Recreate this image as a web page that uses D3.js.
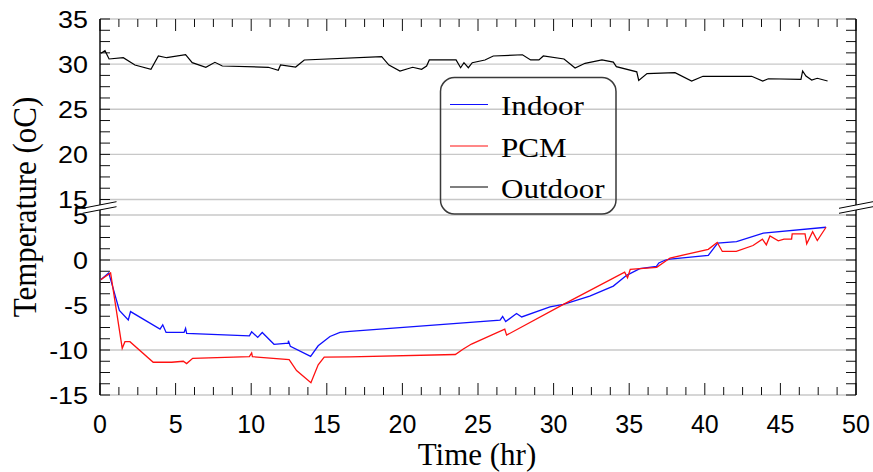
<!DOCTYPE html>
<html>
<head>
<meta charset="utf-8">
<script src="https://cdn.jsdelivr.net/npm/d3@7"></script>
<style>
  html, body { margin: 0; padding: 0; background: #fff; }
  svg { display: block; }
</style>
</head>
<body>
<svg id="chart" width="873" height="472"></svg>
<script>
// ---------- DATA ----------
const timeIndoor = [0.05, 0.58, 1.28, 1.87, 2.02, 3.97, 4.15, 4.37, 5.56, 5.66, 5.73, 9.88, 10.03, 10.43, 10.73, 11.51, 12.45, 12.46, 12.59, 13.93, 14.43, 15.21, 15.87, 16.53, 26.46, 26.63, 26.83, 27.55, 27.89, 29.76, 30.65, 32.39, 33.95, 34.83, 35.7, 36.8, 36.96, 37.4, 37.7, 40.23, 40.85, 42.1, 43.87, 48.02];
const indoor = [-2.2, -1.43, -5.6, -6.65, -5.73, -7.68, -7.2, -8.05, -8.05, -7.6, -8.16, -8.42, -7.98, -8.6, -8.05, -9.37, -9.23, -8.97, -9.6, -10.7, -9.53, -8.5, -8.05, -7.94, -6.68, -6.28, -6.84, -5.95, -6.33, -5.22, -4.93, -4.01, -2.9, -1.7, -0.95, -0.7, -0.33, 0.0, 0.1, 0.51, 1.87, 2.05, 2.98, 3.64];

const timePCM = [0.05, 0.7, 1.47, 1.65, 1.98, 3.52, 4.74, 5.51, 5.73, 6.13, 9.88, 10.03, 10.08, 12.51, 13.0, 13.95, 14.43, 14.83, 16.53, 23.5, 24.03, 24.57, 26.77, 26.89, 30.65, 34.7, 34.89, 35.07, 36.82, 37.7, 40.23, 40.82, 41.16, 42.08, 43.19, 43.81, 44.07, 44.31, 44.86, 45.24, 45.74, 45.78, 46.63, 46.74, 47.13, 47.44, 48.02];
const pcm = [-2.2, -1.43, -9.81, -9.08, -9.08, -11.36, -11.36, -11.25, -11.51, -10.92, -10.74, -10.33, -10.74, -11.07, -12.28, -13.64, -11.65, -10.8, -10.77, -10.5, -9.89, -9.34, -7.68, -8.35, -4.93, -1.36, -1.98, -1.03, -0.81, 0.22, 1.18, 1.95, 0.95, 0.95, 1.61, 2.32, 1.69, 2.68, 2.13, 2.32, 2.32, 2.9, 2.9, 1.8, 3.15, 2.16, 3.64];

const timeOutdoor = [0.07, 0.33, 0.6, 1.54, 2.31, 3.37, 3.86, 4.41, 5.66, 6.1, 7.0, 7.6, 8.09, 11.13, 11.79, 11.94, 12.94, 13.51, 18.63, 19.11, 19.84, 20.68, 21.27, 21.6, 21.78, 23.55, 23.85, 24.07, 24.36, 24.62, 25.46, 26.01, 27.94, 28.48, 29.03, 29.32, 30.69, 31.42, 32.08, 33.2, 33.95, 34.15, 35.5, 35.63, 36.18, 38.03, 39.13, 39.88, 43.1, 43.83, 44.2, 46.36, 46.47, 46.69, 47.07, 47.44, 48.12];
const outdoor = [31.2, 31.49, 30.57, 30.71, 29.9, 29.42, 30.9, 30.71, 31.04, 30.16, 29.65, 30.2, 29.79, 29.65, 29.31, 29.9, 29.68, 30.46, 30.82, 29.9, 29.24, 29.65, 29.42, 29.79, 30.46, 30.46, 29.6, 30.16, 29.6, 30.16, 30.46, 30.9, 31.04, 30.46, 30.46, 30.9, 30.57, 29.57, 30.09, 30.46, 30.22, 29.72, 29.15, 28.2, 28.95, 29.05, 28.13, 28.65, 28.65, 28.13, 28.38, 28.32, 29.24, 28.68, 28.24, 28.43, 28.13];

const xTickValues = [0, 5, 10, 15, 20, 25, 30, 35, 40, 45, 50];
const xTickLabels = ["0", "5", "10", "15", "20", "25", "30", "35", "40", "45", "50"];
const yUpperTicks = [35, 30, 25, 20, 15];
const yUpperLabels = ["35", "30", "25", "20", "15"];
const yLowerTicks = [5, 0, -5, -10, -15];
const yLowerLabels = ["5", "0", "-5", "-10", "-15"];
const seriesNames = ["Indoor", "PCM", "Outdoor"];
const seriesColors = ["#1010ff", "#ff1010", "#000000"];

// ---------- LAYOUT ----------
const L = 100, R = 856, T = 19, B = 395;
const svg = d3.select("#chart");
const x = d3.scaleLinear().domain([0, 50]).range([L, R]);
const yUp = d3.scaleLinear().domain([15, 35]).range([199.5, T]);
const yLo = d3.scaleLinear().domain([-15, 5]).range([B, 215]);

const sans = "'Liberation Sans', Arial, sans-serif";
const serif = "'Liberation Serif', 'Times New Roman', serif";
const gridColor = "#c8c8c8";

// gridlines
const gridUp = [30, 25, 20, 15], gridLo = [5, 0, -5, -10];
svg.append("g").selectAll("line").data(gridUp).join("line")
  .attr("x1", L).attr("x2", R).attr("y1", d => yUp(d)).attr("y2", d => yUp(d))
  .attr("stroke", gridColor).attr("stroke-width", 1.3);
svg.append("g").selectAll("line").data(gridLo).join("line")
  .attr("x1", L).attr("x2", R).attr("y1", d => yLo(d)).attr("y2", d => yLo(d))
  .attr("stroke", gridColor).attr("stroke-width", 1.3);
// top & bottom borders (gray)
svg.append("line").attr("x1", L).attr("x2", R).attr("y1", yUp(35)).attr("y2", yUp(35))
  .attr("stroke", gridColor).attr("stroke-width", 1.5);
svg.append("line").attr("x1", L).attr("x2", R).attr("y1", yLo(-15)).attr("y2", yLo(-15))
  .attr("stroke", gridColor).attr("stroke-width", 1.5);

// minor/major x ticks (top and bottom, inward)
const xMinor = d3.range(0, 50.001, 1.25);
svg.append("g").selectAll("line").data(xMinor).join("line")
  .attr("x1", d => x(d)).attr("x2", d => x(d))
  .attr("y1", B).attr("y2", d => B - (d % 5 === 0 ? 12 : 8))
  .attr("stroke", "#111").attr("stroke-width", 1);
svg.append("g").selectAll("line").data(xMinor).join("line")
  .attr("x1", d => x(d)).attr("x2", d => x(d))
  .attr("y1", T).attr("y2", d => T + (d % 5 === 0 ? 12 : 8))
  .attr("stroke", "#111").attr("stroke-width", 1);

// y ticks (left and right, inward) every 1.25
const yUpMinor = d3.range(15, 35.001, 1.25);
const yLoMinor = d3.range(-15, 5.001, 1.25);
[[L, 1], [R, -1]].forEach(([ax, dir]) => {
  svg.append("g").selectAll("line").data(yUpMinor).join("line")
    .attr("x1", ax).attr("x2", ax + dir * 10).attr("y1", d => yUp(d)).attr("y2", d => yUp(d))
    .attr("stroke", "#111").attr("stroke-width", 1);
  svg.append("g").selectAll("line").data(yLoMinor).join("line")
    .attr("x1", ax).attr("x2", ax + dir * 10).attr("y1", d => yLo(d)).attr("y2", d => yLo(d))
    .attr("stroke", "#111").attr("stroke-width", 1);
  // axis line
  svg.append("line").attr("x1", ax).attr("x2", ax).attr("y1", T).attr("y2", B)
    .attr("stroke", "#000").attr("stroke-width", 1.4);
});

// data lines
const lineUp = d3.line().x(d => x(d[0])).y(d => yUp(d[1]));
const lineLo = d3.line().x(d => x(d[0])).y(d => yLo(d[1]));
const zip = (a, b) => a.map((t, i) => [t, b[i]]);
svg.append("path").datum(zip(timeOutdoor, outdoor)).attr("d", lineUp)
  .attr("fill", "none").attr("stroke", seriesColors[2]).attr("stroke-width", 1.2);
svg.append("path").datum(zip(timeIndoor, indoor)).attr("d", lineLo)
  .attr("fill", "none").attr("stroke", seriesColors[0]).attr("stroke-width", 1.3);
svg.append("path").datum(zip(timePCM, pcm)).attr("d", lineLo)
  .attr("fill", "none").attr("stroke", seriesColors[1]).attr("stroke-width", 1.3);

// axis break marks
[L - 0.5, R].forEach(cx => {
  const w = 17, h = 3.3;
  svg.append("polygon")
    .attr("points", [[cx - w, 208.3], [cx + w, 201.7], [cx + w, 206.7], [cx - w, 213.3]].map(p => p.join(",")).join(" "))
    .attr("fill", "#fff");
  svg.append("line").attr("x1", cx - w).attr("y1", 208.3).attr("x2", cx + w).attr("y2", 201.7)
    .attr("stroke", "#000").attr("stroke-width", 1);
  svg.append("line").attr("x1", cx - w).attr("y1", 213.3).attr("x2", cx + w).attr("y2", 206.7)
    .attr("stroke", "#000").attr("stroke-width", 1);
});

// y tick labels
const yLab = svg.append("g").attr("font-family", sans).attr("font-size", 24).attr("fill", "#000");
yUpperTicks.forEach((v, i) => {
  yLab.append("text").attr("transform", `translate(88,${yUp(v) + 8.6}) scale(1.12,1)`)
    .attr("text-anchor", "end").text(yUpperLabels[i]);
});
yLowerTicks.forEach((v, i) => {
  yLab.append("text").attr("transform", `translate(88,${yLo(v) + 8.6}) scale(1.12,1)`)
    .attr("text-anchor", "end").text(yLowerLabels[i]);
});

// x tick labels
svg.append("g").selectAll("text").data(xTickValues).join("text")
  .attr("x", d => x(d)).attr("y", 433)
  .attr("text-anchor", "middle").attr("font-family", sans).attr("font-size", 25)
  .text((d, i) => xTickLabels[i]);

// axis titles
svg.append("text").attr("x", 477).attr("y", 465).attr("text-anchor", "middle")
  .attr("font-family", serif).attr("font-size", 31).text("Time (hr)");
svg.append("text").attr("transform", "translate(36,207) rotate(-90) scale(1,1.1)")
  .attr("text-anchor", "middle").attr("font-family", serif).attr("font-size", 31)
  .text("Temperature (oC)");

// legend
const lg = svg.append("g");
lg.append("rect").attr("x", 440.5).attr("y", 77.5).attr("width", 175.5).attr("height", 136.5)
  .attr("rx", 14).attr("fill", "none").attr("stroke", "#3a3a3a").attr("stroke-width", 1.5);
const legY = [104.5, 146, 187];
seriesNames.forEach((n, i) => {
  lg.append("line").attr("x1", 450).attr("x2", 488).attr("y1", legY[i]).attr("y2", legY[i])
    .attr("stroke", seriesColors[i]).attr("stroke-width", 1.2);
  lg.append("text").attr("transform", `translate(501,${legY[i] + 10.5}) scale(1.11,1)`)
    .attr("font-family", serif).attr("font-size", 28).text(n);
});
</script>
</body>
</html>
